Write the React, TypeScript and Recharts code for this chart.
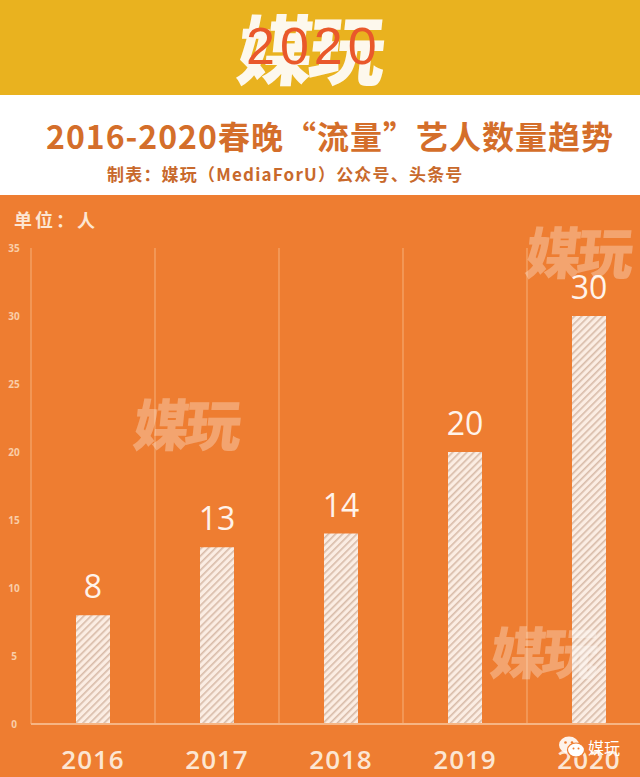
import React from 'react';
import { BarChart, Bar, XAxis, YAxis, CartesianGrid, LabelList } from 'recharts';

const years = ['2016', '2017', '2018', '2019', '2020'];
const artists = [8, 13, 14, 20, 30];
const yTicks = [0, 5, 10, 15, 20, 25, 30, 35];

const data = years.map((year, i) => ({ year, count: artists[i] }));

const CJK = '"Noto Sans CJK SC", "Noto Sans", sans-serif';
const ORANGE = '#EE7D31';
const LIGHT = '#FCE6D3';

const XTick = (props: any) => {
  const { x, y, payload } = props;
  return (
    <text x={x} y={y + 45} textAnchor="middle" fill={LIGHT} fontSize={26} fontWeight={600} fontFamily='"Open Sans", sans-serif' letterSpacing={1}>
      {payload.value}
    </text>
  );
};

const YTick = (props: any) => {
  const { y, payload } = props;
  return (
    <text x={14} y={y + 4} textAnchor="middle" fill="#F9CDA8" fontSize={10} fontWeight={700} fontFamily='"Open Sans", sans-serif'>
      {payload.value}
    </text>
  );
};

const watermark = (left: number, top: number, size: number, opacity: number) => (
  <div
    style={{
      position: 'absolute',
      left,
      top,
      fontSize: size,
      fontWeight: 900,
      fontFamily: CJK,
      color: '#FFFFFF',
      opacity,
      lineHeight: 1,
      letterSpacing: -4,
      transform: 'skewX(-6deg)',
      pointerEvents: 'none',
    }}
  >
    媒玩
  </div>
);

const App: React.FC = () => {
  return (
    <div style={{ position: 'absolute', left: 0, top: 0, width: 640, height: 777, overflow: 'hidden', background: ORANGE }}>
      {/* header bands */}
      <div style={{ position: 'absolute', left: 0, top: 0, width: 640, height: 95, background: '#E9B21F' }} />
      <div style={{ position: 'absolute', left: 0, top: 95, width: 640, height: 100, background: '#FFFFFF' }} />
      {watermark(238, 8, 76, 0.92)}
      <div
        style={{
          position: 'absolute',
          left: 246,
          top: 20,
          fontSize: 52,
          fontFamily: '"Liberation Sans", sans-serif',
          color: '#E9582B',
          lineHeight: 1,
          letterSpacing: 5,
        }}
      >
        2020
      </div>
      <div
        style={{
          position: 'absolute',
          left: 46,
          top: 116,
          fontSize: 32,
          fontWeight: 700,
          fontFamily: CJK,
          color: '#D46E2A',
          whiteSpace: 'nowrap',
          lineHeight: 1.2,
          letterSpacing: 1,
        }}
      >
        2016-2020春晚“流量”艺人数量趋势
      </div>
      <div
        style={{
          position: 'absolute',
          left: 107,
          top: 164,
          fontSize: 17,
          fontWeight: 700,
          fontFamily: CJK,
          color: '#C8692C',
          whiteSpace: 'nowrap',
          lineHeight: 1.2,
          letterSpacing: 1.2,
        }}
      >
        制表：媒玩（MediaForU）公众号、头条号
      </div>
      <div
        style={{
          position: 'absolute',
          left: 14,
          top: 209,
          fontSize: 18,
          fontWeight: 700,
          fontFamily: CJK,
          color: LIGHT,
          whiteSpace: 'nowrap',
          lineHeight: 1.2,
          letterSpacing: 3,
        }}
      >
        单位：人
      </div>

      <div style={{ position: 'absolute', left: 0, top: 232 }}>
        <BarChart width={660} height={545} data={data} margin={{ top: 16, right: 9, bottom: 0, left: 0 }} barSize={34}>
          <defs>
            <pattern id="hatch" patternUnits="userSpaceOnUse" width={5} height={5} patternTransform="rotate(45)">
              <rect width={5} height={5} fill="#FBEDE3" />
              <rect width={1.6} height={5} fill="#D8BBA8" />
            </pattern>
          </defs>
          <CartesianGrid
            horizontal={false}
            stroke="#F5A86F"
            strokeWidth={1.2}
            verticalCoordinatesGenerator={({ offset }: any) =>
              years.map((_, i) => offset.left + (offset.width / years.length) * i)
            }
          />
          <XAxis
            dataKey="year"
            axisLine={{ stroke: '#F6B584', strokeWidth: 2 }}
            tickLine={false}
            tickSize={0}
            tickMargin={0}
            height={53}
            tick={<XTick />}
            interval={0}
          />
          <YAxis
            domain={[0, 35]}
            ticks={yTicks}
            width={31}
            axisLine={false}
            tickLine={false}
            tick={<YTick />}
            interval={0}
          />
          <Bar dataKey="count" fill="url(#hatch)" isAnimationActive={false}>
            <LabelList
              dataKey="count"
              position="top"
              offset={17}
              fill="#FFF3EA"
              fontSize={32}
              fontFamily='"Open Sans", sans-serif'
            />
          </Bar>
        </BarChart>
      </div>

      {watermark(134, 394, 56, 0.3)}
      {watermark(526, 222, 56, 0.3)}
      {watermark(491, 622, 56, 0.3)}

      <div
        style={{
          position: 'absolute',
          left: 558,
          top: 735,
          display: 'flex',
          alignItems: 'center',
          gap: 2,
          fontSize: 16,
          fontFamily: CJK,
          color: '#FFFFFF',
          lineHeight: 1,
        }}
      >
        <svg width={28} height={24} viewBox="0 0 28 24">
          <ellipse cx={11} cy={10} rx={10} ry={8.5} fill="#FFFFFF" opacity={0.9} />
          <ellipse cx={18} cy={15} rx={8.5} ry={7} fill="#FFFFFF" stroke={ORANGE} strokeWidth={1.2} />
          <circle cx={7.5} cy={7.5} r={1.3} fill={ORANGE} />
          <circle cx={14} cy={7.5} r={1.3} fill={ORANGE} />
          <circle cx={15.5} cy={13.5} r={1} fill={ORANGE} />
          <circle cx={20.5} cy={13.5} r={1} fill={ORANGE} />
        </svg>
        <span>媒玩</span>
      </div>
    </div>
  );
};

export default App;
